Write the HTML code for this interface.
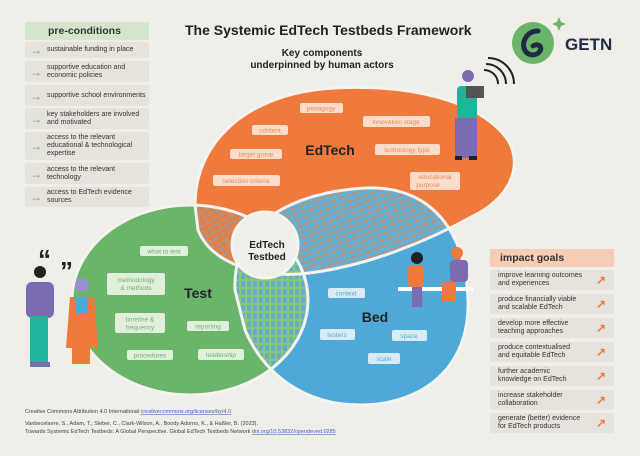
<!DOCTYPE html>
<html><head><meta charset="utf-8"><style>
body{margin:0;background:#efeee9;width:640px;height:456px;overflow:hidden;font-family:"Liberation Sans",sans-serif}
svg{position:absolute;left:0;top:0}
.box{position:absolute;background:#e5e3dc;font-size:7px;color:#333;line-height:8px;display:flex;align-items:center;border-radius:2px}
.l{left:25px;width:124px}
.l span.a{color:#5fb45c;font-size:12px;width:22px;text-align:center;flex:none}
.r{left:490px;width:124px;padding-left:8px;box-sizing:border-box}
.r span.b{color:#f07a3c;font-size:12px;position:absolute;right:8px;font-weight:bold}
.hd{position:absolute;font-weight:bold;font-size:10.5px;color:#333;display:flex;align-items:center}
</style></head><body>
<svg width="640" height="456" viewBox="0 0 640 456">
<defs>
<path id="or" d="M195,205 C195,140 250,92 335,88 C410,84 480,100 508,140 C525,170 505,200 475,215 C430,240 365,268 300,274 C250,277 210,260 198,230 Z"/>
<ellipse id="gr" cx="190" cy="300" rx="118" ry="95"/>
<path id="bl" d="M235,290 C232,222 295,192 365,188 C430,185 466,230 468,300 C470,370 420,405 360,405 C300,405 262,370 245,330 Z"/>
<clipPath id="cO"><use href="#or"/></clipPath>
<clipPath id="cG"><use href="#gr"/></clipPath>
<clipPath id="cB"><use href="#bl"/></clipPath>
<pattern id="pOG" width="8" height="6" patternUnits="userSpaceOnUse" patternTransform="rotate(-30)"><rect width="8" height="6" fill="#f07a3c"/><rect x="1" y="1" width="6" height="3.5" rx="1" fill="#a8978a"/></pattern>
<pattern id="pOB" width="8" height="6" patternUnits="userSpaceOnUse" patternTransform="rotate(-20)"><rect width="8" height="6" fill="#5fb3da"/><rect x="1" y="1" width="6" height="3.5" rx="1" fill="#a8978a"/></pattern>
<pattern id="pGB" width="6" height="8" patternUnits="userSpaceOnUse"><rect width="6" height="8" fill="#8cc47a"/><rect x="1" y="1" width="4" height="6" rx="1" fill="#5fb0c4"/></pattern>
</defs>
<use href="#gr" fill="#6ab56a"/>
<use href="#bl" fill="#4fa9d8"/>
<use href="#or" fill="#f07a3c"/>
<g clip-path="url(#cG)"><use href="#or" fill="url(#pOG)"/></g>
<g clip-path="url(#cB)"><use href="#or" fill="url(#pOB)"/></g>
<g clip-path="url(#cB)"><use href="#gr" fill="url(#pGB)"/></g>
<g fill="none" stroke="#f4f3ef" stroke-width="3"><use href="#or"/><use href="#gr"/><use href="#bl"/></g>
<circle cx="265" cy="245" r="33" fill="#efeee9" stroke="#f4f3ef" stroke-width="3"/>
<text x="267" y="248" font-size="10" font-weight="bold" text-anchor="middle" fill="#222">EdTech</text>
<text x="267" y="260" font-size="10" font-weight="bold" text-anchor="middle" fill="#222">Testbed</text>
<text x="330" y="155" font-size="14" font-weight="bold" text-anchor="middle" fill="#222">EdTech</text>
<text x="198" y="298" font-size="14" font-weight="bold" text-anchor="middle" fill="#222">Test</text>
<text x="375" y="322" font-size="14" font-weight="bold" text-anchor="middle" fill="#222">Bed</text>
<g font-size="6.5" text-anchor="middle">
<g fill="#fcdccb"><rect x="300" y="103" width="43" height="10" rx="2"/><rect x="252" y="125" width="36" height="10" rx="2"/><rect x="363" y="116" width="67" height="11" rx="2"/><rect x="230" y="149" width="52" height="10" rx="2"/><rect x="375" y="144" width="65" height="11" rx="2"/><rect x="213" y="175" width="67" height="11" rx="2"/><rect x="410" y="172" width="50" height="18" rx="2"/></g>
<g fill="#f08a58"><text x="321" y="110.5">pedagogy</text><text x="270" y="132.5">content</text><text x="396" y="124">innovation stage</text><text x="256" y="156.5">target group</text><text x="407" y="152">technology type</text><text x="246" y="183">selection criteria</text><text x="435" y="179">educational</text><text x="428" y="187">purpose</text></g>
<g fill="#e2efdd"><rect x="140" y="246" width="48" height="10" rx="2"/><rect x="107" y="273" width="58" height="22" rx="2"/><rect x="115" y="313" width="50" height="20" rx="2"/><rect x="187" y="321" width="42" height="10" rx="2"/><rect x="127" y="350" width="46" height="10" rx="2"/><rect x="198" y="349" width="46" height="11" rx="2"/></g>
<g fill="#6ab56a"><text x="164" y="253.5">what to test</text><text x="136" y="282">methodology</text><text x="136" y="290">&amp; methods</text><text x="140" y="321.5">timeline &amp;</text><text x="140" y="329.5">frequency</text><text x="208" y="328.5">reporting</text><text x="150" y="357.5">procedures</text><text x="221" y="357">leadership</text></g>
<g fill="#d9ecf6"><rect x="328" y="288" width="37" height="10" rx="2"/><rect x="320" y="329" width="35" height="11" rx="2"/><rect x="392" y="330" width="35" height="11" rx="2"/><rect x="368" y="353" width="32" height="11" rx="2"/></g>
<g fill="#4fa9d8"><text x="346" y="295.5">context</text><text x="337" y="337">testers</text><text x="409" y="338">space</text><text x="384" y="361">scale</text></g>
</g>
<text x="185" y="35" font-size="14" font-weight="bold" fill="#222">The Systemic EdTech Testbeds Framework</text>
<text x="322" y="56" font-size="10" font-weight="bold" text-anchor="middle" fill="#222">Key components</text>
<text x="322" y="68" font-size="10" font-weight="bold" text-anchor="middle" fill="#222">underpinned by human actors</text>
<circle cx="533" cy="43" r="21" fill="#6ab56a"/>
<path d="M538,31 C528,31 522,40 524,48 C526,56 536,57 540,51 C543,46 537,43 533,46" fill="none" stroke="#1f2a44" stroke-width="5" stroke-linecap="round"/>
<path d="M559,17 l2,5 5,2 -5,2 -2,5 -2,-5 -5,-2 5,-2z" fill="#6ab56a"/>
<text x="565" y="50" font-size="17" font-weight="bold" fill="#1f2a44">GETN</text>
<path d="M484,70 a14,14 0 0 1 14,14 M486,64 a20,20 0 0 1 20,20 M488,58 a26,26 0 0 1 26,26" fill="none" stroke="#222" stroke-width="2"/>
<circle cx="468" cy="76" r="6" fill="#7d6bb0"/>
<rect x="457" y="86" width="20" height="33" rx="4" fill="#1fb59a"/>
<rect x="466" y="86" width="18" height="12" fill="#555"/>
<rect x="455" y="118" width="22" height="40" fill="#7d6bb0"/>
<rect x="455" y="156" width="7" height="4" fill="#222"/><rect x="469" y="156" width="8" height="4" fill="#222"/>
<text x="38" y="268" font-size="26" font-weight="bold" fill="#222">“</text><text x="60" y="280" font-size="26" font-weight="bold" fill="#222">”</text>
<circle cx="40" cy="272" r="6" fill="#222"/>
<rect x="26" y="282" width="28" height="36" rx="6" fill="#7d6bb0"/>
<rect x="30" y="316" width="18" height="48" fill="#1fb59a"/>
<rect x="30" y="362" width="20" height="5" fill="#7d6bb0"/>
<circle cx="82" cy="285" r="7" fill="#9b8fd0"/>
<path d="M70,297 L94,297 L98,348 L66,348 Z" fill="#f07a3c"/>
<rect x="76" y="298" width="12" height="16" fill="#4fa9d8"/>
<rect x="72" y="348" width="18" height="16" fill="#f07a3c"/>
<rect x="398" y="287" width="75" height="4" fill="#fff"/>
<circle cx="417" cy="258" r="6" fill="#222"/>
<rect x="408" y="265" width="16" height="22" rx="4" fill="#f07a3c"/>
<rect x="412" y="287" width="10" height="20" fill="#7d6bb0"/>
<circle cx="457" cy="253" r="6" fill="#f07a3c"/>
<rect x="450" y="260" width="18" height="22" rx="4" fill="#7d6bb0"/>
<rect x="442" y="282" width="14" height="20" fill="#f07a3c"/>
<g font-size="5.5" fill="#444"><text x="25" y="413">Creative Commons Attribution 4.0 International <tspan fill="#4466bb" text-decoration="underline">creativecommons.org/licenses/by/4.0</tspan></text>
<text x="25" y="425">Vanbecelaere, S., Adam, T., Sleber, C., Clark-Wilson, A., Boody Adorno, K., &amp; Haßler, B. (2023).</text>
<text x="25" y="433">Towards Systemic EdTech Testbeds: A Global Perspective. Global EdTech Testbeds Network <tspan fill="#4466bb" text-decoration="underline">doi.org/10.53832/opendeved.0285</tspan></text></g>
</svg>
<div class="hd" style="left:25px;top:22px;width:124px;height:18px;background:#d3e5cc;padding-left:23px;box-sizing:border-box">pre-conditions</div>
<div class="box l" style="top:42px;height:16px"><span class="a">→</span>sustainable funding in place</div>
<div class="box l" style="top:61px;height:21px"><span class="a">→</span>supportive education and economic policies</div>
<div class="box l" style="top:85px;height:21px"><span class="a">→</span>supportive school environments</div>
<div class="box l" style="top:108px;height:21px"><span class="a">→</span>key stakeholders are involved and motivated</div>
<div class="box l" style="top:132px;height:28px"><span class="a">→</span>access to the relevant educational &amp; technological expertise</div>
<div class="box l" style="top:163px;height:21px"><span class="a">→</span>access to the relevant technology</div>
<div class="box l" style="top:187px;height:20px"><span class="a">→</span>access to EdTech evidence sources</div>
<div class="hd" style="left:490px;top:249px;width:124px;height:18px;background:#f6cdb5;padding-left:10px;box-sizing:border-box">impact goals</div>
<div class="box r" style="top:270px;height:20px"><span>improve learning outcomes<br>and experiences</span><span class="b">↗</span></div>
<div class="box r" style="top:294px;height:20px"><span>produce financially viable<br>and scalable EdTech</span><span class="b">↗</span></div>
<div class="box r" style="top:318px;height:20px"><span>develop more effective<br>teaching approaches</span><span class="b">↗</span></div>
<div class="box r" style="top:342px;height:20px"><span>produce contextualised<br>and equitable EdTech</span><span class="b">↗</span></div>
<div class="box r" style="top:366px;height:20px"><span>further academic<br>knowledge on EdTech</span><span class="b">↗</span></div>
<div class="box r" style="top:390px;height:20px"><span>increase stakeholder<br>collaboration</span><span class="b">↗</span></div>
<div class="box r" style="top:413px;height:20px"><span>generate (better) evidence<br>for EdTech products</span><span class="b">↗</span></div>
</body></html>
